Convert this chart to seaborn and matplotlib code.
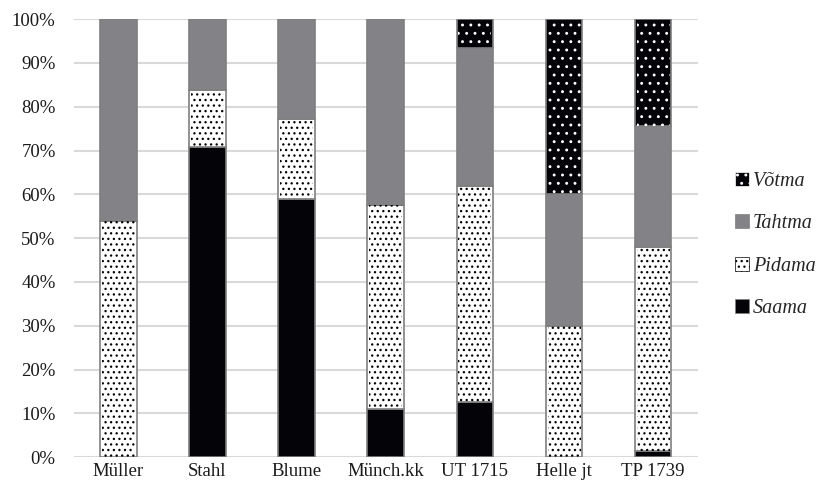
import numpy as np
import pandas as pd
import matplotlib.pyplot as plt
import seaborn as sns
from matplotlib.patches import Patch

# Données (parts en %)
categories = ['Müller', 'Stahl', 'Blume', 'Münch.kk', 'UT 1715', 'Helle jt', 'TP 1739']
saama = [0, 70.8, 59, 11, 12.7, 0, 1.5]
pidama = [54, 13, 18.1, 46.5, 49.3, 30, 46.5]
tahtma = [46, 16.2, 22.9, 42.5, 31.5, 30, 27.6]
votma = [0, 0, 0, 0, 6.5, 40, 24.4]

series = ['Saama', 'Pidama', 'Tahtma', 'Võtma']
values = {'Saama': saama, 'Pidama': pidama, 'Tahtma': tahtma, 'Võtma': votma}
faces = {'Saama': '#030308', 'Pidama': '#ffffff', 'Tahtma': '#838387', 'Võtma': '#030308'}
hatches = {'Saama': None, 'Pidama': '...', 'Tahtma': None, 'Võtma': '..'}
hatch_cols = {'Pidama': '#000000', 'Võtma': '#ffffff'}

sns.set_style('white')
plt.rcParams['font.family'] = ['Liberation Serif', 'DejaVu Serif']
plt.rcParams['hatch.linewidth'] = 0.9

fig = plt.figure(figsize=(8.19, 4.9), dpi=100)
ax = fig.add_axes([0.09, 0.067, 0.762, 0.894])

bottom = np.zeros(len(categories))
for s in series:
    df = pd.DataFrame({'cat': categories, 'val': values[s]})
    sns.barplot(data=df, x='cat', y='val', bottom=bottom, color=faces[s],
                edgecolor='#7f7f7f', linewidth=1.2, width=0.41, ax=ax,
                saturation=1, zorder=2)
    if hatches[s]:
        sns.barplot(data=df, x='cat', y='val', bottom=bottom, color='none',
                    edgecolor=hatch_cols[s], linewidth=0, width=0.37, ax=ax,
                    hatch=hatches[s], saturation=1, zorder=3)
    bottom = bottom + np.array(values[s])

ax.set_ylim(0, 100)
ax.set_xlim(-0.5, len(categories) - 0.5)
ax.set_yticks(np.arange(0, 101, 10))
ax.set_yticklabels([f'{v}%' for v in range(0, 101, 10)])
ax.yaxis.grid(True, color='#d9d9d9', linewidth=1.5, zorder=0)
ax.set_axisbelow(True)
ax.set_xlabel('')
ax.set_ylabel('')
for sp in ax.spines.values():
    sp.set_visible(False)
ax.tick_params(axis='both', length=0, labelsize=13.5, colors='#1a1a1a')
ax.tick_params(axis='y', pad=13)
ax.tick_params(axis='x', pad=4)

handles = []
for s in reversed(series):
    handles.append(Patch(facecolor=faces[s], edgecolor=hatch_cols.get(s, '#7f7f7f'),
                         hatch=hatches[s], linewidth=0.5, label=s))
leg = fig.legend(handles=handles, loc='center left', bbox_to_anchor=(0.875, 0.5),
                 frameon=False, handlelength=0.7, handleheight=0.7,
                 handletextpad=0.2, labelspacing=1.15,
                 prop={'family': 'Liberation Serif', 'style': 'italic', 'size': 14.5})

fig.savefig('out.png', dpi=100)
